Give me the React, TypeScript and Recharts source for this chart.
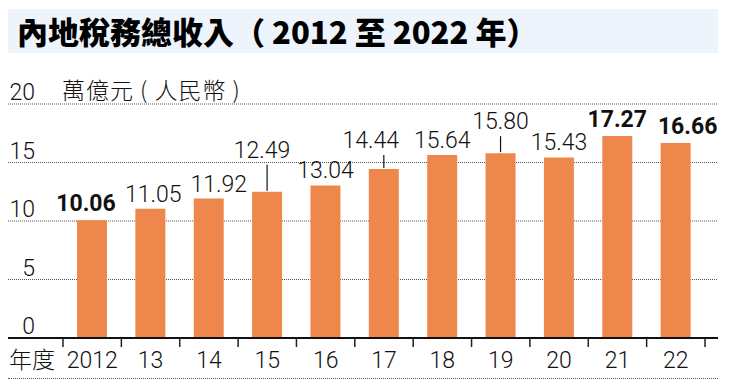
import React from "react";
import { BarChart, Bar, XAxis, YAxis, CartesianGrid, LabelList } from "recharts";

const YEARS = ["2012", "13", "14", "15", "16", "17", "18", "19", "20", "21", "22"];
const REVENUE = [10.06, 11.05, 11.92, 12.49, 13.04, 14.44, 15.64, 15.8, 15.43, 17.27, 16.66];
const Y_TICKS = [0, 5, 10, 15, 20];
const BOLD_YEARS = ["2012", "21", "22"];

const TITLE = "內地稅務總收入（ 2012 至 2022 年）";
const UNIT = "萬億元 ( 人民幣 )";
const X_NAME = "年度";

// label placement tweaks: lift above the bar top and sideways nudge
const LIFTED: Record<string, number> = { "15": 34, "17": 21, "19": 24 };
const LIFT_DEFAULT = 7;
const LIFT_BOLD = 9;
const NUDGE: Record<string, number> = { "2012": -6, "13": 3, "14": 10, "15": -5, "17": -13, "22": 12 };

const W = 730;
const H = 388;
const MARGIN = { top: 104, right: 12, bottom: 0, left: 0 };
const Y_W = 8;
const PAD = { left: 55, right: 13 };
const BAND = (W - Y_W - MARGIN.right - PAD.left - PAD.right) / YEARS.length;
const BAR = "#EE874B";
const NUM_FONT = "Roboto, 'Liberation Sans', Arial, sans-serif";
const CJK_FONT = "'Noto Sans CJK TC', 'Noto Sans CJK SC', sans-serif";

const data = YEARS.map((year, i) => ({ year, value: REVENUE[i] }));

const XTick = (props: any) => {
  const { x, y, payload } = props;
  const i = props.index ?? payload.index;
  const half = BAND / 2;
  return (
    <g>
      {i === 0 && (
        <>
          <line x1={x - half} x2={x - half} y1={y} y2={y + 9} stroke="#222" strokeWidth={1.5} />
          <text
            x={x - half - 8}
            y={y + 30}
            textAnchor="end"
            fontSize={23}
            fontWeight={300}
            fontFamily={CJK_FONT}
            fill="#111"
          >
            {X_NAME}
          </text>
        </>
      )}
      <line x1={x + half} x2={x + half} y1={y} y2={y + 9} stroke="#222" strokeWidth={1.5} />
      <text x={x} y={y + 30} textAnchor="middle" fontSize={23} fontWeight={300} fontFamily={NUM_FONT} fill="#111">
        {payload.value}
      </text>
    </g>
  );
};

const YTick = (props: any) => {
  const { y, payload } = props;
  return (
    <text x={Y_W + 27} y={y - 4} textAnchor="end" fontSize={23} fontWeight={300} fontFamily={NUM_FONT} fill="#111">
      {payload.value}
    </text>
  );
};

const ValueLabel = (props: any) => {
  const { x, y, width, value, index } = props;
  const year = YEARS[index];
  const cx = x + width / 2;
  const bold = BOLD_YEARS.includes(year);
  const lift = LIFTED[year];
  const base = y - (lift ?? (bold ? LIFT_BOLD : LIFT_DEFAULT));
  return (
    <g>
      {lift && <line x1={cx} x2={cx} y1={y - 1} y2={base + 7} stroke="#111" strokeWidth={1.2} />}
      <text
        x={cx + (NUDGE[year] ?? 0)}
        y={base}
        textAnchor="middle"
        fontSize={23}
        fontWeight={bold ? 700 : 300}
        fontFamily={NUM_FONT}
        fill="#111"
      >
        {Number(value).toFixed(2)}
      </text>
    </g>
  );
};

export default function App() {
  return (
    <div style={{ position: "absolute", left: 0, top: 0, width: W, height: H, background: "#fff" }}>
      <div
        style={{
          position: "absolute",
          left: 8,
          top: 9,
          width: 710,
          height: 44,
          background: "#EDF4FC",
          fontFamily: CJK_FONT,
          fontWeight: 900,
          fontSize: 31,
          lineHeight: "44px",
          paddingLeft: 9,
          boxSizing: "border-box",
          color: "#000",
          whiteSpace: "pre",
        }}
      >
        {TITLE}
      </div>
      <div
        style={{
          position: "absolute",
          left: 62,
          top: 74,
          fontFamily: CJK_FONT,
          fontSize: 23,
          fontWeight: 300,
          lineHeight: "30px",
          color: "#111",
          whiteSpace: "pre",
          letterSpacing: 1,
        }}
      >
        {UNIT}
      </div>
      <BarChart width={W} height={H} data={data} margin={MARGIN}>
        <CartesianGrid vertical={false} stroke="#555" strokeDasharray="1 1" />
        <YAxis
          width={Y_W}
          domain={[0, 20]}
          ticks={Y_TICKS}
          interval={0}
          axisLine={false}
          tickLine={false}
          tick={<YTick />}
        />
        <XAxis
          dataKey="year"
          height={50}
          padding={PAD}
          interval={0}
          tickSize={0}
          tickMargin={0}
          tickLine={false}
          axisLine={{ stroke: "#111", strokeWidth: 2 }}
          tick={<XTick />}
        />
        <Bar dataKey="value" fill={BAR} barSize={30} isAnimationActive={false}>
          <LabelList dataKey="value" content={<ValueLabel />} />
        </Bar>
      </BarChart>
      <div
        style={{
          position: "absolute",
          left: 8,
          top: 378,
          width: 710,
          borderTop: "1px dotted #555",
        }}
      />
    </div>
  );
}
